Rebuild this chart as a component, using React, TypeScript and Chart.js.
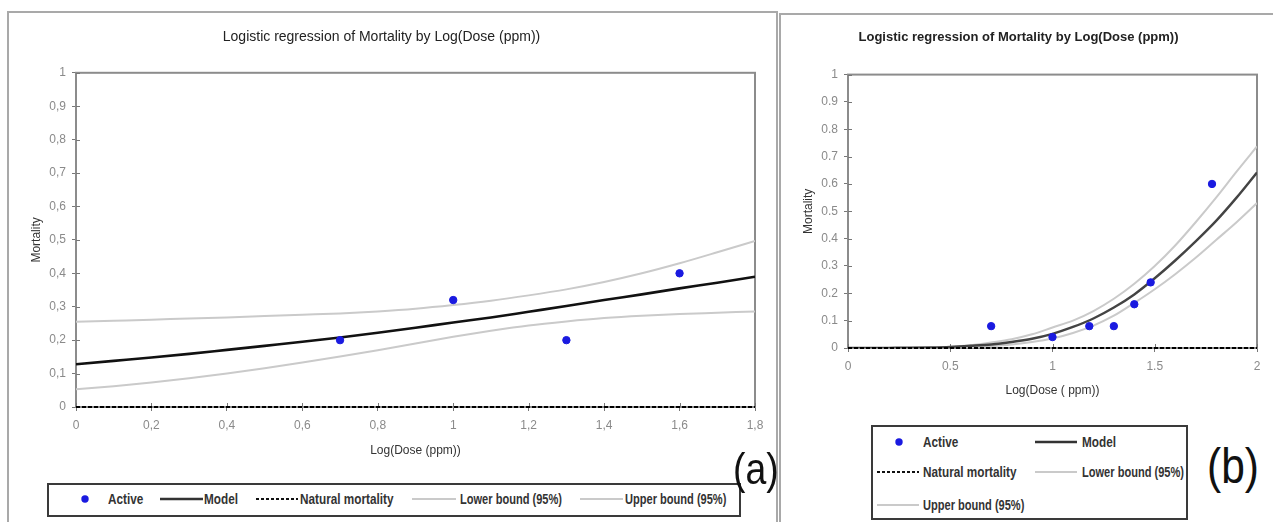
import React, { useEffect, useRef } from "react";
import { Chart, registerables } from "chart.js";

Chart.register(...registerables);

const TITLE = "Logistic regression of Mortality by Log(Dose (ppm))";
const X_TITLE_A = "Log(Dose (ppm))";
const X_TITLE_B = "Log(Dose ( ppm))";
const Y_TITLE = "Mortality";

// ---------- Panel (a) ----------
const curveXA = [0, 0.1, 0.2, 0.3, 0.4, 0.5, 0.6, 0.7, 0.8, 0.9, 1.0, 1.1, 1.2, 1.3, 1.4, 1.5, 1.6, 1.7, 1.8];
const modelA = [0.128, 0.138, 0.148, 0.159, 0.171, 0.183, 0.195, 0.208, 0.222, 0.237, 0.253, 0.268, 0.285, 0.302, 0.32, 0.337, 0.355, 0.372, 0.39];
const lowerA = [0.053, 0.062, 0.073, 0.086, 0.1, 0.116, 0.133, 0.151, 0.17, 0.19, 0.21, 0.228, 0.244, 0.256, 0.266, 0.273, 0.278, 0.282, 0.286];
const upperA = [0.255, 0.258, 0.261, 0.265, 0.268, 0.272, 0.276, 0.28, 0.286, 0.294, 0.305, 0.318, 0.334, 0.352, 0.374, 0.4, 0.43, 0.463, 0.497];
const activeXA = [0.7, 1.0, 1.3, 1.6];
const activeYA = [0.2, 0.32, 0.2, 0.4];
const naturalXA = [0, 1.8];
const naturalYA = [0, 0];
const xTicksA = [0, 0.2, 0.4, 0.6, 0.8, 1.0, 1.2, 1.4, 1.6, 1.8];

// ---------- Panel (b) ----------
const curveXB = [0, 0.1, 0.2, 0.3, 0.4, 0.5, 0.6, 0.7, 0.8, 0.9, 1.0, 1.1, 1.2, 1.3, 1.4, 1.5, 1.6, 1.7, 1.8, 1.9, 2.0];
const modelB = [0, 0, 0.0005, 0.001, 0.002, 0.004, 0.008, 0.013, 0.022, 0.034, 0.052, 0.077, 0.108, 0.148, 0.196, 0.255, 0.32, 0.39, 0.465, 0.55, 0.642];
const boundXB = [0.5, 0.6, 0.7, 0.8, 0.9, 1.0, 1.1, 1.2, 1.3, 1.4, 1.5, 1.6, 1.7, 1.8, 1.9, 2.0];
const lowerB = [0.001, 0.003, 0.007, 0.013, 0.022, 0.035, 0.055, 0.082, 0.118, 0.165, 0.215, 0.27, 0.33, 0.395, 0.46, 0.53];
const upperB = [0.004, 0.01, 0.02, 0.032, 0.05, 0.075, 0.1, 0.135, 0.18, 0.235, 0.3, 0.375, 0.46, 0.55, 0.645, 0.737];
const activeXB = [0.7, 1.0, 1.18, 1.3, 1.4, 1.48, 1.78];
const activeYB = [0.08, 0.04, 0.08, 0.08, 0.16, 0.24, 0.6];
const naturalXB = [0, 2];
const naturalYB = [0, 0];
const xTicksB = [0, 0.5, 1, 1.5, 2];

const yTicks = [0, 0.1, 0.2, 0.3, 0.4, 0.5, 0.6, 0.7, 0.8, 0.9, 1];

const LEGEND_LABELS = ["Active", "Model", "Natural mortality", "Lower bound (95%)", "Upper bound (95%)"];

const FONT = '"Liberation Sans", Arial, sans-serif';
const BLUE = "#1a1ae0";
const GRAY = "#cacaca";

const zip = (xs: number[], ys: number[]) => xs.map((x, i) => ({ x, y: ys[i] }));

const framePlugin = {
  id: "frameTicks",
  beforeDatasetsDraw(chart: any) {
    const { ctx, chartArea: a, scales } = chart;
    ctx.save();
    ctx.strokeStyle = "#8c8c8c";
    ctx.lineWidth = 2;
    ctx.strokeRect(a.left, a.top, a.right - a.left, a.bottom - a.top);
    ctx.strokeStyle = "#777";
    ctx.lineWidth = 1;
    ctx.beginPath();
    scales.x.ticks.forEach((t: any) => {
      const px = Math.round(scales.x.getPixelForValue(t.value)) + 0.5;
      ctx.moveTo(px, a.bottom);
      ctx.lineTo(px, a.bottom - 4);
    });
    scales.y.ticks.forEach((t: any) => {
      const py = Math.round(scales.y.getPixelForValue(t.value)) + 0.5;
      ctx.moveTo(a.left, py);
      ctx.lineTo(a.left + 4, py);
    });
    ctx.stroke();
    ctx.restore();
  },
};

type PanelCfg = {
  width: number;
  height: number;
  xMax: number;
  xTicks: number[];
  comma: boolean;
  xTitle: string;
  titleWeight: string;
  titleSize: number;
  titlePadTop: number;
  titlePadBottom: number;
  padRight: number;
  xAxisHeight: number;
  xTitlePadBottom: number;
  modelColor: string;
  modelWidth: number;
  active: { x: number; y: number }[];
  model: { x: number; y: number }[];
  lower: { x: number; y: number }[];
  upper: { x: number; y: number }[];
  natural: { x: number; y: number }[];
};

function fmt(v: number, comma: boolean) {
  const s = String(Math.round(v * 10) / 10);
  return comma ? s.replace(".", ",") : s;
}

function PanelChart({ cfg, left, top }: { cfg: PanelCfg; left: number; top: number }) {
  const ref = useRef<HTMLCanvasElement | null>(null);
  useEffect(() => {
    if (!ref.current) return;
    const tickFont = { family: FONT, size: 12 };
    const chart = new Chart(ref.current, {
      type: "scatter",
      data: {
        datasets: [
          {
            label: LEGEND_LABELS[0],
            data: cfg.active,
            backgroundColor: BLUE,
            borderColor: BLUE,
            pointRadius: 3.7,
            pointHoverRadius: 3.7,
            showLine: false,
          },
          {
            label: LEGEND_LABELS[2],
            data: cfg.natural,
            borderColor: "#000",
            borderWidth: 2,
            borderDash: [4, 2],
            pointRadius: 0,
            showLine: true,
            clip: 6,
          },
          {
            label: LEGEND_LABELS[1],
            data: cfg.model,
            borderColor: cfg.modelColor,
            borderWidth: cfg.modelWidth,
            pointRadius: 0,
            showLine: true,
            cubicInterpolationMode: "monotone",
          },
          {
            label: LEGEND_LABELS[4],
            data: cfg.upper,
            borderColor: GRAY,
            borderWidth: 2,
            pointRadius: 0,
            showLine: true,
            cubicInterpolationMode: "monotone",
          },
          {
            label: LEGEND_LABELS[3],
            data: cfg.lower,
            borderColor: GRAY,
            borderWidth: 2,
            pointRadius: 0,
            showLine: true,
            cubicInterpolationMode: "monotone",
          },
        ] as any,
      },
      options: {
        animation: false,
        responsive: false,
        layout: { padding: { left: 0, right: cfg.padRight, top: 0, bottom: 0 } },
        plugins: {
          legend: { display: false },
          tooltip: { enabled: false },
          title: {
            display: true,
            text: TITLE,
            color: "#222",
            font: { family: FONT, size: cfg.titleSize, weight: cfg.titleWeight as any, lineHeight: 1.2 },
            padding: { top: cfg.titlePadTop, bottom: cfg.titlePadBottom },
          },
        },
        scales: {
          x: {
            type: "linear",
            min: 0,
            max: cfg.xMax,
            afterBuildTicks: (s: any) => {
              s.ticks = cfg.xTicks.map((v) => ({ value: v }));
            },
            afterFit: (s: any) => {
              s.height = cfg.xAxisHeight;
            },
            border: { display: true, color: "#666", width: 2 },
            grid: { drawOnChartArea: false, drawTicks: true, tickLength: 4, color: "#777" },
            ticks: {
              color: "#8a8a8a",
              font: tickFont,
              padding: 7,
              maxRotation: 0,
              autoSkip: false,
              callback: (v: any) => fmt(Number(v), cfg.comma),
            },
            title: {
              display: true,
              text: cfg.xTitle,
              color: "#333",
              font: { family: FONT, size: 12, lineHeight: 1.2 },
              padding: { top: 4, bottom: cfg.xTitlePadBottom },
            },
          },
          y: {
            type: "linear",
            min: 0,
            max: 1,
            afterBuildTicks: (s: any) => {
              s.ticks = yTicks.map((v) => ({ value: v }));
            },
            afterFit: (s: any) => {
              s.width = 68;
            },
            border: { display: true, color: "#666", width: 2 },
            grid: { drawOnChartArea: false, drawTicks: true, tickLength: 4, color: "#777" },
            ticks: {
              color: "#8a8a8a",
              font: tickFont,
              padding: 6,
              autoSkip: false,
              callback: (v: any) => fmt(Number(v), cfg.comma),
            },
            title: {
              display: true,
              text: Y_TITLE,
              color: "#333",
              font: { family: FONT, size: 12, lineHeight: 1.2 },
              padding: { top: 21, bottom: 0 },
            },
          },
        },
      },
      plugins: [framePlugin],
    });
    return () => chart.destroy();
  }, [cfg]);
  return (
    <canvas
      ref={ref}
      width={cfg.width}
      height={cfg.height}
      style={{ position: "absolute", left, top, width: cfg.width, height: cfg.height }}
    />
  );
}

const cfgA: PanelCfg = {
  width: 770,
  height: 460,
  xMax: 1.8,
  xTicks: xTicksA,
  comma: true,
  xTitle: X_TITLE_A,
  titleWeight: "normal",
  titleSize: 14,
  titlePadTop: 17,
  titlePadBottom: 27,
  padRight: 23,
  xAxisHeight: 65,
  xTitlePadBottom: 14,
  modelColor: "#111",
  modelWidth: 2.6,
  active: zip(activeXA, activeYA),
  model: zip(curveXA, modelA),
  lower: zip(curveXA, lowerA),
  upper: zip(curveXA, upperA),
  natural: zip(naturalXA, naturalYA),
};

const cfgB: PanelCfg = {
  width: 493,
  height: 400,
  xMax: 2,
  xTicks: xTicksB,
  comma: false,
  xTitle: X_TITLE_B,
  titleWeight: "bold",
  titleSize: 13,
  titlePadTop: 16,
  titlePadBottom: 29,
  padRight: 16,
  xAxisHeight: 66,
  xTitlePadBottom: 16,
  modelColor: "#444",
  modelWidth: 2.4,
  active: zip(activeXB, activeYB),
  model: zip(curveXB, modelB),
  lower: zip(boundXB, lowerB),
  upper: zip(boundXB, upperB),
  natural: zip(naturalXB, naturalYB),
};

function Swatch({ kind, left, cy, w }: { kind: string; left: number; cy: number; w: number }) {
  return (
    <svg
      width={w}
      height={10}
      style={{ position: "absolute", left, top: cy - 5, overflow: "visible" }}
    >
      {kind === "dot" && <circle cx={w / 2} cy={5} r={3.7} fill={BLUE} />}
      {kind === "model" && <line x1={0} y1={5} x2={w} y2={5} stroke="#333" strokeWidth={2.6} />}
      {kind === "natural" && (
        <line x1={0} y1={5} x2={w} y2={5} stroke="#111" strokeWidth={1.8} strokeDasharray="3 2" />
      )}
      {kind === "bound" && <line x1={0} y1={5} x2={w} y2={5} stroke={GRAY} strokeWidth={2} />}
    </svg>
  );
}

function LegendText({ text, left, cy, sx = 0.84 }: { text: string; left: number; cy: number; sx?: number }) {
  return (
    <div
      style={{
        position: "absolute",
        left,
        top: cy - 9,
        height: 18,
        lineHeight: "18px",
        fontFamily: FONT,
        fontSize: 14,
        fontWeight: "bold",
        color: "#333",
        whiteSpace: "nowrap",
        transform: `scaleX(${sx})`,
        transformOrigin: "0 50%",
      }}
    >
      {text}
    </div>
  );
}

function PanelLabel({ text, left, top, size }: { text: string; left: number; top: number; size: number }) {
  return (
    <div
      style={{
        position: "absolute",
        left,
        top,
        fontFamily: FONT,
        fontSize: size,
        lineHeight: `${Math.round(size * 1.25)}px`,
        color: "#111",
        whiteSpace: "nowrap",
        transform: "scaleX(0.85)",
        transformOrigin: "0 50%",
      }}
    >
      {text}
    </div>
  );
}

export default function App() {
  const cyA = 499;
  const BSX = 0.79;
  return (
    <div
      style={{
        position: "absolute",
        left: 0,
        top: 0,
        width: 1273,
        height: 522,
        background: "#fff",
        overflow: "hidden",
        fontFamily: FONT,
      }}
    >
      {/* panel frames */}
      <div
        style={{
          position: "absolute",
          left: 7,
          top: 11,
          width: 771,
          height: 540,
          border: "2px solid #a9a9a9",
          boxSizing: "border-box",
        }}
      />
      <div
        style={{
          position: "absolute",
          left: 779,
          top: 13,
          width: 540,
          height: 540,
          border: "2px solid #a9a9a9",
          boxSizing: "border-box",
        }}
      />

      <PanelChart cfg={cfgA} left={8} top={12} />
      <PanelChart cfg={cfgB} left={780} top={14} />

      {/* legend (a) */}
      <div
        style={{
          position: "absolute",
          left: 47,
          top: 483,
          width: 694,
          height: 34,
          border: "2px solid #3a3a3a",
          boxSizing: "border-box",
        }}
      />
      <Swatch kind="dot" left={80} cy={cyA} w={10} />
      <LegendText text={LEGEND_LABELS[0]} left={108} cy={cyA} />
      <Swatch kind="model" left={160} cy={cyA} w={43} />
      <LegendText text={LEGEND_LABELS[1]} left={204} cy={cyA} />
      <Swatch kind="natural" left={256} cy={cyA} w={42} />
      <LegendText text={LEGEND_LABELS[2]} left={300} cy={cyA} />
      <Swatch kind="bound" left={412} cy={cyA} w={44} />
      <LegendText text={LEGEND_LABELS[3]} left={460} cy={cyA} sx={BSX} />
      <Swatch kind="bound" left={580} cy={cyA} w={43} />
      <LegendText text={LEGEND_LABELS[4]} left={625} cy={cyA} sx={BSX} />

      {/* legend (b) */}
      <div
        style={{
          position: "absolute",
          left: 871,
          top: 425,
          width: 317,
          height: 95,
          border: "2px solid #3a3a3a",
          boxSizing: "border-box",
        }}
      />
      <Swatch kind="dot" left={894} cy={442} w={10} />
      <LegendText text={LEGEND_LABELS[0]} left={923} cy={442} />
      <Swatch kind="model" left={1035} cy={442} w={42} />
      <LegendText text={LEGEND_LABELS[1]} left={1082} cy={442} />
      <Swatch kind="natural" left={877} cy={472} w={42} />
      <LegendText text={LEGEND_LABELS[2]} left={923} cy={472} />
      <Swatch kind="bound" left={1035} cy={472} w={42} />
      <LegendText text={LEGEND_LABELS[3]} left={1082} cy={472} sx={BSX} />
      <Swatch kind="bound" left={877} cy={505} w={42} />
      <LegendText text={LEGEND_LABELS[4]} left={923} cy={505} sx={BSX} />

      {/* panel labels */}
      <PanelLabel text="(a)" left={733} top={441} size={44} />
      <PanelLabel text="(b)" left={1207} top={435} size={50} />
    </div>
  );
}
